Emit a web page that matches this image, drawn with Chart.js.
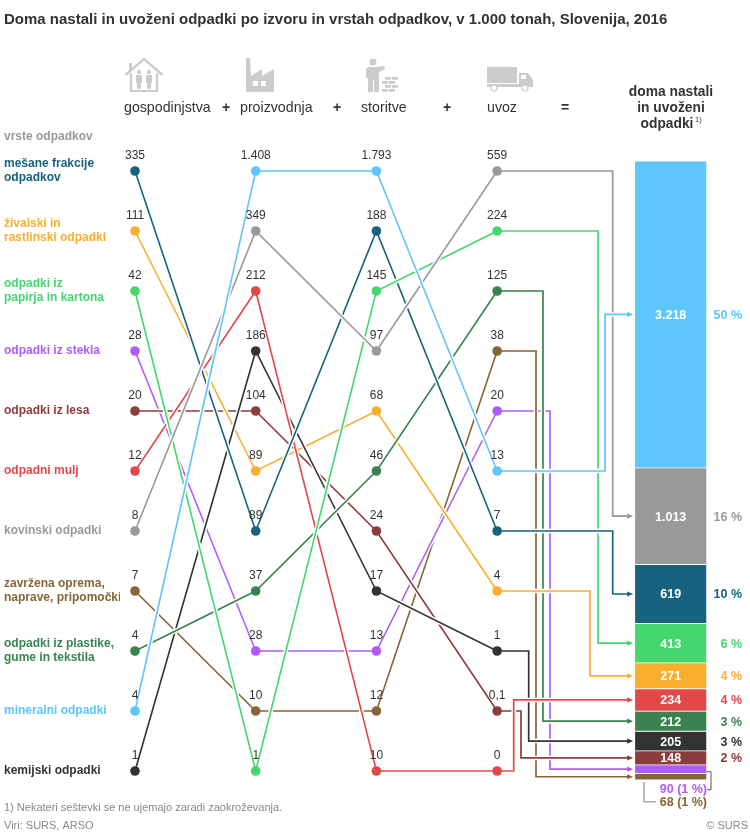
<!DOCTYPE html>
<html>
<head>
<meta charset="utf-8">
<title>Doma nastali in uvoženi odpadki</title>
<script src="https://cdn.jsdelivr.net/npm/chart.js@4"></script>
<style>
    html, body { margin: 0; padding: 0; background: #fff; }
    canvas { display: block; }
</style>
</head>
<body>
<canvas id="wasteChart" width="750" height="836"></canvas>
<script>
// Data, always in the order of the categories array
const categories = ['mešane frakcije odpadkov', 'živalski in rastlinski odpadki', 'odpadki iz papirja in kartona',
    'odpadki iz stekla', 'odpadki iz lesa', 'odpadni mulj', 'kovinski odpadki',
    'zavržena oprema, naprave, pripomočki', 'odpadki iz plastike, gume in tekstila', 'mineralni odpadki', 'kemijski odpadki'];
const rowLabels = [['mešane frakcije', 'odpadkov'], ['živalski in', 'rastlinski odpadki'], ['odpadki iz', 'papirja in kartona'],
    'odpadki iz stekla', 'odpadki iz lesa', 'odpadni mulj', 'kovinski odpadki',
    ['zavržena oprema,', 'naprave, pripomočki'], ['odpadki iz plastike,', 'gume in tekstila'], 'mineralni odpadki', 'kemijski odpadki'];
const sources = ['gospodinjstva', 'proizvodnja', 'storitve', 'uvoz'];

const gospodinjstva = [335, 111, 42, 28, 20, 12, 8, 7, 4, 4, 1];
const proizvodnja = [89, 89, 1, 28, 104, 212, 349, 10, 37, 1408, 186];
const storitve = [188, 68, 145, 13, 24, 10, 97, 12, 46, 1793, 17];
const uvoz = [7, 4, 224, 20, 0.1, 0, 559, 38, 125, 13, 1];

// Row of each category in each column (ties are not derivable from the values)
const rowsGospodinjstva = [0, 1, 2, 3, 4, 5, 6, 7, 8, 9, 10];
const rowsProizvodnja = [6, 5, 10, 8, 4, 2, 1, 9, 7, 0, 3];
const rowsStoritve = [1, 4, 2, 8, 6, 10, 3, 9, 5, 0, 7];
const rowsUvoz = [6, 7, 1, 4, 9, 10, 0, 3, 2, 5, 8];

const totals = [619, 271, 413, 90, 148, 234, 1013, 68, 212, 3218, 205];
const shares = [10, 4, 6, 1, 2, 4, 16, 1, 3, 50, 3];
const stackOrder = [9, 6, 0, 2, 1, 5, 8, 10, 4, 3, 7];

const colors = ['#16627f', '#f9ae2e', '#43d76d', '#b15cfa', '#8b3c3c', '#e34848', '#999999', '#876536', '#3a8350', '#5ec6fa', '#333333'];

const columnValues = [gospodinjstva, proizvodnja, storitve, uvoz];
const columnRows = [rowsGospodinjstva, rowsProizvodnja, rowsStoritve, rowsUvoz];

// Layout of the scales (the plot area ends a little short of the canvas)
const FONT = '"Liberation Sans", Arial, sans-serif';
const COL_STEP = 120.67;
const AREA_LEFT = 120, AREA_RIGHT = 745, AREA_TOP = 141, AREA_BOTTOM = 801;
const COL0 = 135, BAR_TOP = 161, BAR_PX_PER_UNIT = 619 / 6491;
const BAR_X = (670.5 - COL0) / COL_STEP;

// Elbow lanes of the connectors (pixels), drawn bottom to top in this order
const lanes = [[3, 550], [7, 536], [8, 543], [10, 528.7], [4, 521], [5, 513.7], [1, 590], [2, 598], [0, 612.7], [6, 612.7], [9, 605]];

const formatValue = v => String(v).replace('.', ',').replace(/\B(?=(\d{3})+$)/, '.');

// Slope lines: first dataset is painted last, so the list runs top to bottom
const slopeDrawOrder = [9, 6, 2, 0, 5, 8, 10, 1, 4, 3, 7];
const slopeDatasets = slopeDrawOrder.map(i => ({
    type: 'line',
    label: categories[i],
    yAxisID: 'y',
    data: columnRows.map((rows, col) => ({ x: col, y: rows[i] })),
    borderColor: colors[i],
    backgroundColor: colors[i],
    borderWidth: 1.6,
    pointRadius: 4.8,
    pointBorderWidth: 0,
    pointBackgroundColor: colors[i],
    tension: 0,
    clip: false
}));

const barDatasets = stackOrder.map(i => ({
    type: 'bar',
    label: categories[i],
    yAxisID: 'y2',
    stack: 'total',
    data: [{ x: BAR_X, y: totals[i] }],
    backgroundColor: colors[i],
    borderColor: '#fff',
    borderWidth: 0.75,
    borderSkipped: false,
    barThickness: 72
}));

function text(ctx, str, x, y, font, color, align) {
    ctx.font = font;
    ctx.fillStyle = color;
    ctx.textAlign = align || 'left';
    ctx.textBaseline = 'alphabetic';
    ctx.fillText(str, x, y);
}

function polyline(ctx, pts, color, width) {
    ctx.beginPath();
    pts.forEach((p, k) => k ? ctx.lineTo(p[0], p[1]) : ctx.moveTo(p[0], p[1]));
    ctx.strokeStyle = color;
    ctx.lineWidth = width;
    ctx.stroke();
}

// White casing under each slope line, so crossings show a small gap
const haloPlugin = {
    id: 'halo',
    beforeDatasetDraw(chart, args) {
        const meta = args.meta;
        if (meta.type !== 'line') return;
        const ctx = chart.ctx;
        ctx.save();
        polyline(ctx, meta.data.map(p => [p.x, p.y]), '#fff', 4.5);
        ctx.restore();
    }
};

// Step lines from the uvoz column to the stacked bar
const connectorPlugin = {
    id: 'connectors',
    beforeDatasetsDraw(chart) {
        const { ctx, scales } = chart;
        const startX = scales.x.getPixelForValue(3);
        const tipX = scales.x.getPixelForValue(BAR_X) - 37.5;
        const mids = {};
        let sum = 0;
        stackOrder.forEach(i => { mids[i] = sum + totals[i] / 2; sum += totals[i]; });
        ctx.save();
        ctx.lineJoin = 'miter';
        lanes.forEach(([i, lane]) => {
            const y0 = scales.y.getPixelForValue(rowsUvoz[i]);
            const y1 = scales.y2.getPixelForValue(mids[i]);
            const pts = [[startX, y0], [lane, y0], [lane, y1], [tipX - 4, y1]];
            polyline(ctx, pts, '#fff', 4.5);
            polyline(ctx, pts, colors[i], 1.7);
            ctx.beginPath();
            ctx.moveTo(tipX, y1);
            ctx.lineTo(tipX - 6, y1 - 2.6);
            ctx.lineTo(tipX - 6, y1 + 2.6);
            ctx.closePath();
            ctx.fillStyle = colors[i];
            ctx.fill();
        });
        ctx.restore();
    }
};

function drawIcons(ctx) {
    const gray = '#cccccc';
    ctx.save();
    ctx.fillStyle = gray;
    ctx.strokeStyle = gray;
    // house
    ctx.lineWidth = 2.4;
    ctx.beginPath();
    ctx.moveTo(125.5, 75);
    ctx.lineTo(144, 59);
    ctx.lineTo(162.5, 75);
    ctx.stroke();
    ctx.fillRect(129, 63, 3, 8);
    ctx.lineWidth = 2.2;
    ctx.beginPath();
    ctx.moveTo(131, 73);
    ctx.lineTo(131, 91);
    ctx.lineTo(157, 91);
    ctx.lineTo(157, 73);
    ctx.stroke();
    [139, 149].forEach(x => {
        ctx.beginPath();
        ctx.arc(x, 72, 2.2, 0, Math.PI * 2);
        ctx.fill();
        ctx.fillRect(x - 3, 75, 6, 8);
        ctx.fillRect(x - 2, 83, 4, 6);
    });
    // factory
    ctx.beginPath();
    ctx.moveTo(246, 58);
    ctx.lineTo(250, 58);
    ctx.lineTo(251, 76);
    ctx.lineTo(262, 69);
    ctx.lineTo(262, 76);
    ctx.lineTo(274, 69);
    ctx.lineTo(274, 92);
    ctx.lineTo(246, 92);
    ctx.closePath();
    ctx.fill();
    ctx.fillStyle = '#fff';
    ctx.fillRect(253, 81, 5, 5);
    ctx.fillRect(261, 81, 5, 5);
    // worker with bricks
    ctx.fillStyle = gray;
    ctx.beginPath();
    ctx.arc(373, 62, 3.4, 0, Math.PI * 2);
    ctx.fill();
    ctx.beginPath();
    ctx.moveTo(368, 67);
    ctx.lineTo(378, 67);
    ctx.lineTo(384, 66);
    ctx.lineTo(385, 69);
    ctx.lineTo(379, 72);
    ctx.lineTo(379, 92);
    ctx.lineTo(368, 92);
    ctx.closePath();
    ctx.fill();
    ctx.fillRect(366, 68, 2, 10);
    ctx.fillStyle = '#fff';
    ctx.fillRect(373, 80, 1, 12);
    ctx.fillStyle = gray;
    for (let r = 0; r < 4; r++) {
        const off = r % 2 ? 0 : 3;
        ctx.fillRect(382 + off, 77 + r * 4, 6, 2.8);
        ctx.fillRect(389 + off, 77 + r * 4, 6, 2.8);
    }
    // truck
    ctx.fillRect(487, 67, 30, 16);
    ctx.fillRect(487, 84, 46, 3);
    ctx.beginPath();
    ctx.moveTo(519, 73);
    ctx.lineTo(528, 73);
    ctx.lineTo(533, 80);
    ctx.lineTo(533, 87);
    ctx.lineTo(519, 87);
    ctx.closePath();
    ctx.fill();
    ctx.fillStyle = '#fff';
    ctx.fillRect(521, 75, 5, 4);
    [494, 525].forEach(x => {
        ctx.beginPath();
        ctx.arc(x, 88, 3, 0, Math.PI * 2);
        ctx.fillStyle = '#fff';
        ctx.fill();
        ctx.lineWidth = 1.2;
        ctx.stroke();
    });
    ctx.restore();
}

// All the page text around the plot, and the value labels
const textPlugin = {
    id: 'labels',
    afterDraw(chart) {
        const { ctx, scales } = chart;
        const dark = '#333333', soft = '#888888';
        ctx.save();
        text(ctx, 'Doma nastali in uvoženi odpadki po izvoru in vrstah odpadkov, v 1.000 tonah, Slovenija, 2016', 4, 24, 'bold 15px ' + FONT, dark);
        drawIcons(ctx);

        const headX = [124, 240, 361, 487];
        sources.forEach((s, i) => text(ctx, s, headX[i], 112, '14.2px ' + FONT, dark));
        [226, 337, 447].forEach(x => text(ctx, '+', x, 112, 'bold 14px ' + FONT, dark, 'center'));
        text(ctx, '=', 565, 112, 'bold 14px ' + FONT, dark, 'center');
        text(ctx, 'doma nastali', 671, 96, 'bold 13.8px ' + FONT, dark, 'center');
        text(ctx, 'in uvoženi', 671, 112, 'bold 13.8px ' + FONT, dark, 'center');
        text(ctx, 'odpadki', 667, 128, 'bold 13.8px ' + FONT, dark, 'center');
        text(ctx, '1)', 695, 122, '7.5px ' + FONT, dark);
        text(ctx, 'vrste odpadkov', 4, 140, 'bold 12px ' + FONT, '#999999');

        columnValues.forEach((vals, col) => vals.forEach((v, i) => {
            const x = scales.x.getPixelForValue(col);
            const y = scales.y.getPixelForValue(columnRows[col][i]);
            text(ctx, formatValue(v), x, y - 12, '12px ' + FONT, dark, 'center');
        }));

        const barX = scales.x.getPixelForValue(BAR_X);
        let sum = 0;
        stackOrder.forEach(i => {
            const y = scales.y2.getPixelForValue(sum + totals[i] / 2);
            sum += totals[i];
            if (totals[i] >= 100) {
                text(ctx, formatValue(totals[i]), barX, y + 4.5, 'bold 12.5px ' + FONT, '#fff', 'center');
                text(ctx, shares[i] + ' %', 742, y + 4.5, 'bold 12.5px ' + FONT, colors[i], 'right');
            }
        });
        text(ctx, formatValue(totals[3]) + ' (' + shares[3] + ' %)', 707, 793, 'bold 12.5px ' + FONT, colors[3], 'right');
        text(ctx, formatValue(totals[7]) + ' (' + shares[7] + ' %)', 707, 806, 'bold 12.5px ' + FONT, colors[7], 'right');

        polyline(ctx, [[706.5, 771.7], [711, 771.7], [711, 789.7], [707, 789.7]], '#555555', 1);
        polyline(ctx, [[644, 782], [644, 801.7], [656, 801.7]], '#aaaaaa', 1.6);

        text(ctx, '1) Nekateri seštevki se ne ujemajo zaradi zaokroževanja.', 4, 811, '11px ' + FONT, soft);
        text(ctx, 'Viri: SURS, ARSO', 4, 829, '11px ' + FONT, soft);
        text(ctx, '© SURS', 748, 829, '11px ' + FONT, soft, 'right');
        ctx.restore();
    }
};

new Chart(document.getElementById('wasteChart'), {
    data: { datasets: [...slopeDatasets, ...barDatasets] },
    options: {
        responsive: false,
        animation: false,
        layout: { padding: { left: 4, top: AREA_TOP, bottom: 836 - AREA_BOTTOM, right: 0 } },
        plugins: { legend: { display: false }, title: { display: false }, tooltip: { enabled: false } },
        scales: {
            x: {
                type: 'linear',
                display: false,
                offset: false,
                min: (AREA_LEFT - COL0) / COL_STEP,
                max: (AREA_RIGHT - COL0) / COL_STEP
            },
            y: {
                type: 'linear',
                reverse: true,
                min: -0.5,
                max: 10.5,
                border: { display: false },
                grid: { display: false, drawTicks: false },
                afterBuildTicks(scale) { scale.ticks = rowsGospodinjstva.map(r => ({ value: r })); },
                afterFit(scale) { scale.width = AREA_LEFT - 4; },
                ticks: {
                    autoSkip: false,
                    crossAlign: 'far',
                    font: { family: FONT, size: 12, weight: 'bold', lineHeight: 1.17 },
                    color: ctx => colors[ctx.tick.value] || '#333',
                    callback: v => rowLabels[v]
                }
            },
            y2: {
                type: 'linear',
                display: false,
                reverse: true,
                stacked: true,
                min: (AREA_TOP - BAR_TOP) / BAR_PX_PER_UNIT,
                max: (AREA_BOTTOM - BAR_TOP) / BAR_PX_PER_UNIT
            }
        }
    },
    plugins: [haloPlugin, connectorPlugin, textPlugin]
});
</script>
</body>
</html>
